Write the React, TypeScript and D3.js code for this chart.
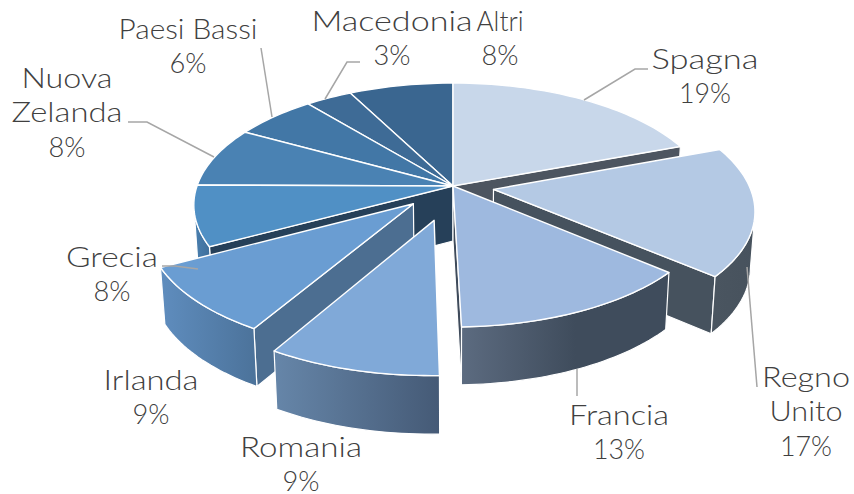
import React from "react";
import * as d3 from "d3";

const names = ["Spagna","Regno Unito","Francia","Romania","Irlanda","Grecia","Nuova Zelanda","Paesi Bassi","Macedonia","Altri"];
const values = [19.4,17.1,13.3,8.9,8.8,8,8,6,3.4,7.6];
const explode = [0,0.16,0,0.285,0.21,0,0,0,0,0];
const topColors = ["#c8d7ea","#b4c9e4","#9eb9df","#80a9d8","#6a9dd2","#5090c5","#4a82b3","#4277a6","#3e6b96","#3a6690"];
const wallLeft = ["#4d5560","#4a5560","#5c6b80","#6686a9","#5f8dbe","#4a80b0","#4a7aa6","#3f6f9c","#3a628a","#365e85"];
const wallRight = ["#4d5560","#47525d","#3f4c5c","#455a76","#4c739b","#3f6f9c","#3f6f9c","#3a628a","#365e85","#33587d"];
const wallStop = [1,1,0.55,1,1,1,1,1,1,1];
const cutColors = ["#4d5560","#46525e","#3f4b5b","#4c6e91","#4c6e91","#264059","#264059","#264059","#264059","#264059"];

type Lab = { lines: string[]; x: number; y: number; widths: number[] };
const labels: Lab[] = [
  { lines: ["Spagna","19%"], x: 705, y: 69, widths: [107,52] },
  { lines: ["Regno","Unito","17%"], x: 806, y: 387, widths: [88,73,52] },
  { lines: ["Francia","13%"], x: 619, y: 425, widths: [100,52] },
  { lines: ["Romania","9%"], x: 301, y: 457, widths: [122,37] },
  { lines: ["Irlanda","9%"], x: 151, y: 390, widths: [95,37] },
  { lines: ["Grecia","8%"], x: 112, y: 267, widths: [92,37] },
  { lines: ["Nuova","Zelanda","8%"], x: 67, y: 88, widths: [91,111,37] },
  { lines: ["Paesi Bassi","6%"], x: 188, y: 39, widths: [139,37] },
  { lines: ["Macedonia","3%"], x: 392, y: 31, widths: [161,37] },
  { lines: ["Altri","8%"], x: 500, y: 31, widths: [47,37] },
];
const leaders: [number, number][][] = [
  [[584,100],[635,69],[648,69]],
  [[747,267],[757,387]],
  [[577,369],[577,396]],
  [[162,266],[175,266],[198,269]],
  [[128,122],[147,122],[214,157]],
  [[261,48],[272,117]],
  [[360,62],[347,62],[325,99]],
];

const X = 453, Y = 186, A = 256, K = 119, P = 0.156, SHRINK = 0.985;

const top = (u: number, v: number): [number, number] => {
  const s = 1 / (1 - P * v);
  return [X + A * u * s, Y + K * v * s];
};
const bottom = (u: number, v: number): [number, number] => {
  const [x, y] = top(u, v);
  return [X + (x - X) * SHRINK, Y + (y - Y) * SHRINK + 55 + 5 * v];
};
const line = d3.line<[number, number]>();
const area = (pts: [number, number][]) => d3.polygonArea(pts);

const pieGen = d3.pie<number>().sort(null).value((d) => d);
const arcs = pieGen(values);

const slices = arcs.map((a, i) => {
  const mid = (a.startAngle + a.endAngle) / 2;
  const ox = explode[i] * Math.sin(mid);
  const oy = -explode[i] * Math.cos(mid);
  const n = Math.max(8, Math.ceil((a.endAngle - a.startAngle) * 40));
  const angles = d3.range(n + 1).map((k) => a.startAngle + (a.endAngle - a.startAngle) * (k / n));
  const rim = angles.map((t) => [ox + Math.sin(t), oy - Math.cos(t)] as [number, number]);
  const topRim = rim.map(([u, v]) => top(u, v));
  const botRim = rim.map(([u, v]) => bottom(u, v));
  const apexT = top(ox, oy);
  const apexB = bottom(ox, oy);
  // the outer wall only faces the viewer where the rim runs right to left
  const visible = d3.range(topRim.length).filter((k) =>
    (k + 1 < topRim.length && topRim[k + 1][0] < topRim[k][0]) ||
    (k > 0 && topRim[k][0] < topRim[k - 1][0])
  );
  const frontT = visible.map((k) => topRim[k]);
  const frontB = visible.map((k) => botRim[k]);
  const xs = frontT.map((p) => p[0]);
  return { i, mid, apexT, apexB, topRim, botRim, frontT, frontB, x0: d3.min(xs) ?? 0, x1: d3.max(xs) ?? 1, depth: Math.sin(mid - Math.PI / 2) };
});
const ordered = [...slices].sort((a, b) => d3.ascending(a.depth, b.depth));

export default function App() {
  return (
    <svg width={854} height={494} viewBox="0 0 854 494" style={{ position: "absolute", left: 0, top: 0, background: "#fff" }} aria-label={names.join(", ")}>
      <defs>
        {slices.map((s) => (
          <linearGradient key={s.i} id={`w${s.i}`} gradientUnits="userSpaceOnUse" x1={s.x0} x2={s.x1} y1={0} y2={0}>
            <stop offset="0" stopColor={wallLeft[s.i]} />
            <stop offset={wallStop[s.i]} stopColor={wallRight[s.i]} />
          </linearGradient>
        ))}
      </defs>
      {ordered.map((s) => {
        const tFirst = s.topRim[0], tLast = s.topRim[s.topRim.length - 1];
        const bFirst = s.botRim[0], bLast = s.botRim[s.botRim.length - 1];
        const cutA: [number, number][] = [s.apexT, tFirst, bFirst, s.apexB];
        const cutB: [number, number][] = [s.apexT, tLast, bLast, s.apexB];
        const outer = [...s.frontT, ...[...s.frontB].reverse()];
        const face = [s.apexT, ...s.topRim];
        const showA = area(cutA) > 0;
        const showB = area(cutB) < 0;
        return (
          <g key={s.i}>
            {showA && <path d={line(cutA) + "Z"} fill={cutColors[s.i]} stroke="#fff" strokeWidth={1.2} strokeLinejoin="round" />}
            {showB && <path d={line(cutB) + "Z"} fill={cutColors[s.i]} stroke="#fff" strokeWidth={1.2} strokeLinejoin="round" />}
            {s.frontT.length > 1 && <path d={line(outer) + "Z"} fill={`url(#w${s.i})`} stroke="#fff" strokeWidth={1.2} strokeLinejoin="round" />}
            <path d={line(face) + "Z"} fill={topColors[s.i]} stroke="#fff" strokeWidth={1.4} strokeLinejoin="round" />
          </g>
        );
      })}
      {leaders.map((l, i) => (
        <path key={i} d={line(l) ?? ""} fill="none" stroke="#a6a6a6" strokeWidth={1.5} />
      ))}
      {labels.map((l, i) => (
        <text key={i} fontFamily="Lato, sans-serif" fontWeight={300} fontSize={26.5} fill="#404040" textAnchor="middle">
          {l.lines.map((t, k) => (
            <tspan key={k} x={l.x} y={l.y + k * 34.3} textLength={l.widths[k]} lengthAdjust="spacingAndGlyphs">{t}</tspan>
          ))}
        </text>
      ))}
    </svg>
  );
}
